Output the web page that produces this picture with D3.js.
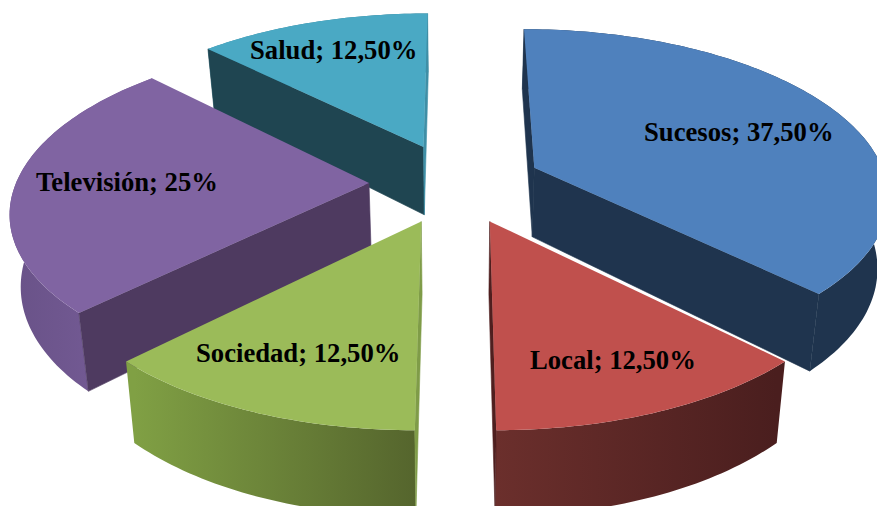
<!DOCTYPE html>
<html>
<head>
<meta charset="utf-8" />
<style>
    html, body { margin: 0; padding: 0; background: #fff; }
    svg { display: block; }
    text { font: bold 26.67px "Liberation Serif", serif; fill: #000; }
</style>
</head>
<body>
<svg width="877" height="506"></svg>
<script src="https://d3js.org/d3.v7.min.js"></script>
<script>
    var categories = ["Sucesos", "Local", "Sociedad", "Televisión", "Salud"];
    var shares = [37.5, 12.5, 12.5, 25, 12.5];
    var shareLabels = ["37,50%", "12,50%", "12,50%", "25%", "12,50%"];

    // colours per slice: top face, cut faces, outer wall left and right
    var topColors = ["#4f81bd", "#c0504d", "#9bbb59", "#8064a2", "#4aa9c4"];
    var startCutColors = ["#1f344e", "#4f1f1f", "#7f9c48", "#4e3a60", "#1f4551"];
    var endCutColors = ["#1f344e", "#4f1f1f", "#7f9c48", "#4e3a60", "#3f8fa6"];
    var wallLeft = ["#1f344e", "#6b2f2c", "#80a044", "#6a5389", "#3f8fa6"];
    var wallRight = ["#1f344e", "#4a1e1e", "#55652d", "#7a5f9c", "#2f7488"];

    // label anchor (left end, baseline)
    var labelPos = [[644, 141], [530, 369], [196, 362], [36, 191], [250, 59]];

    var svg = d3.select("svg");
    var defs = svg.append("defs");

    // projection of the tilted pie
    var explode = 0.245, perspective = 0.152, depth = 70, lowerShrink = 0.975;
    var x = d3.scaleLinear().domain([-1, 1]).range([102.5, 808.5]);
    var y = d3.scaleLinear().domain([-1, 1]).range([347, 19]);
    var centerX = x(0), centerY = y(0);

    function project(u, v, lower) {
        var s = 1 / (1 + perspective * v);
        var px = centerX + (x(u) - centerX) * s;
        var py = centerY + (y(v) - centerY) * s;
        if (lower) {
            px = centerX + (px - centerX) * lowerShrink;
            py = py + depth * s;
        }
        return [px, py];
    }

    var pie = d3.pie().sort(null).value(function (d) { return d; });
    var arcs = pie(shares);
    var line = d3.line();

    function ground(angle, r, mid) {
        return [explode * Math.sin(mid) + r * Math.sin(angle), explode * Math.cos(mid) + r * Math.cos(angle)];
    }

    function rim(d, mid, lower) {
        var steps = Math.ceil((d.endAngle - d.startAngle) / 0.02);
        return d3.range(steps + 1).map(function (i) {
            var a = d.startAngle + (d.endAngle - d.startAngle) * i / steps;
            var g = ground(a, 1, mid);
            return project(g[0], g[1], lower);
        });
    }

    // painted from the back to the front
    var order = [4, 0, 3, 2, 1];

    order.forEach(function (i) {
        var d = arcs[i];
        var mid = (d.startAngle + d.endAngle) / 2;
        var g = svg.append("g").attr("class", "slice");
        var apex = ground(0, 0, mid);
        var apexTop = project(apex[0], apex[1], false);
        var apexLow = project(apex[0], apex[1], true);
        var rimTop = rim(d, mid, false);
        var rimLow = rim(d, mid, true);
        var last = rimTop.length - 1;

        // outer wall with its shading
        var gradId = "wall" + i;
        var xs = rimLow.map(function (p) { return p[0]; });
        var grad = defs.append("linearGradient")
            .attr("id", gradId)
            .attr("gradientUnits", "userSpaceOnUse")
            .attr("x1", d3.min(xs)).attr("x2", d3.max(xs))
            .attr("y1", 0).attr("y2", 0);
        grad.append("stop").attr("offset", 0).attr("stop-color", wallLeft[i]);
        grad.append("stop").attr("offset", 1).attr("stop-color", wallRight[i]);
        g.append("path")
            .attr("d", line(rimTop.concat(rimLow.slice().reverse())) + "Z")
            .attr("fill", "url(#" + gradId + ")");

        // cut faces, only the ones turned to the viewer
        var startFace = [apexTop, rimTop[0], rimLow[0], apexLow];
        var endFace = [apexTop, rimTop[last], rimLow[last], apexLow];
        if (d3.polygonArea(startFace) > 0) {
            g.append("path").attr("d", line(startFace) + "Z")
                .attr("fill", startCutColors[i]).attr("stroke", startCutColors[i]).attr("stroke-width", 0.6);
        }
        if (d3.polygonArea(endFace) < 0) {
            g.append("path").attr("d", line(endFace) + "Z")
                .attr("fill", endCutColors[i]).attr("stroke", endCutColors[i]).attr("stroke-width", 0.6);
        }

        // top face
        g.append("path")
            .attr("d", line([apexTop].concat(rimTop)) + "Z")
            .attr("fill", topColors[i]);
    });

    svg.selectAll("text.label")
        .data(categories)
        .enter().append("text")
        .attr("class", "label")
        .attr("x", function (d, i) { return labelPos[i][0]; })
        .attr("y", function (d, i) { return labelPos[i][1]; })
        .text(function (d, i) { return d + "; " + shareLabels[i]; });
</script>
</body>
</html>
